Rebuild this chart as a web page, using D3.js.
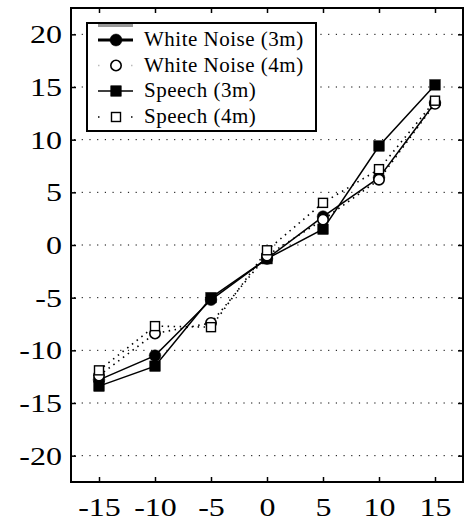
<!DOCTYPE html>
<html>
<head>
<meta charset="utf-8">
<script src="https://cdn.jsdelivr.net/npm/d3@7"></script>
<style>
  html, body { margin: 0; padding: 0; background: #fff; }
  svg { display: block; }
</style>
</head>
<body>
<svg id="chart" width="464" height="526"></svg>
<script>
// ---- data ----
const xValues = [-15, -10, -5, 0, 5, 10, 15];
const whiteNoise3m = [-12.8, -10.5, -5.2, -1.3, 2.7, 6.4, 13.5];
const whiteNoise4m = [-12.4, -8.4, -7.4, -1.0, 2.4, 6.2, 13.4];
const speech3m = [-13.4, -11.5, -5.0, -1.3, 1.5, 9.4, 15.2];
const speech4m = [-11.9, -7.7, -7.8, -0.5, 4.0, 7.2, 13.7];
const xTicks = [-15, -10, -5, 0, 5, 10, 15];
const yTicks = [-20, -15, -10, -5, 0, 5, 10, 15, 20];
const seriesNames = ["White Noise (3m)", "White Noise (4m)", "Speech (3m)", "Speech (4m)"];

const FONT = "Liberation Serif";
const SX = 1.28; // horizontal stretch of tick labels, as in the reference

const series = [
  { name: seriesNames[0], values: whiteNoise3m, marker: "circle", filled: true, dash: null },
  { name: seriesNames[1], values: whiteNoise4m, marker: "circle", filled: false, dash: "1.5,4.5" },
  { name: seriesNames[2], values: speech3m, marker: "square", filled: true, dash: null },
  { name: seriesNames[3], values: speech4m, marker: "square", filled: false, dash: "1.5,4.5" }
];

const svg = d3.select("#chart");
const L = 71, R = 463, T = 8, B = 482;
const x = d3.scaleLinear().domain([-17.5, 17.5]).range([L, R]);
const y = d3.scaleLinear().domain([-22.5, 22.5]).range([B, T]);
const fmt = d => String(d); // plain hyphen-minus like the reference

// grid (horizontal dotted)
svg.append("g").selectAll("line").data(yTicks).join("line")
  .attr("x1", L + 3).attr("x2", R - 1)
  .attr("y1", d => y(d)).attr("y2", d => y(d))
  .attr("stroke", "#000").attr("stroke-width", 1)
  .attr("stroke-dasharray", "1.2,6.5");

// axes with inward ticks
const tickLen = 5;
const gB = svg.append("g").attr("transform", `translate(0,${B})`)
  .call(d3.axisBottom(x).tickValues(xTicks).tickFormat(fmt).tickSizeInner(-tickLen).tickSizeOuter(0).tickPadding(16));
const gT = svg.append("g").attr("transform", `translate(0,${T})`)
  .call(d3.axisTop(x).tickValues(xTicks).tickSizeInner(-tickLen).tickSizeOuter(0).tickFormat(""));
const gL = svg.append("g").attr("transform", `translate(${L},0)`)
  .call(d3.axisLeft(y).tickValues(yTicks).tickFormat(fmt).tickSizeInner(-tickLen).tickSizeOuter(0).tickPadding(9));
const gR = svg.append("g").attr("transform", `translate(${R},0)`)
  .call(d3.axisRight(y).tickValues(yTicks).tickSizeInner(-tickLen).tickSizeOuter(0).tickFormat(""));

[gB, gT, gL, gR].forEach(g => {
  g.select(".domain").remove();
  g.selectAll(".tick line").attr("stroke", "#000").attr("stroke-width", 1.5);
  g.selectAll("text").attr("fill", "#000")
    .style("font-family", FONT).style("font-size", "25px");
});
gB.selectAll("text").attr("dy", "0.71em").attr("transform", `scale(${SX},1)`);
gL.selectAll("text").attr("dy", "0.34em").attr("x", -9 / SX).attr("transform", `scale(${SX},1)`);

// frame
svg.append("rect").attr("x", L).attr("y", T).attr("width", R - L).attr("height", B - T)
  .attr("fill", "none").attr("stroke", "#000").attr("stroke-width", 2);

// lines
const line = d3.line().x((d, i) => x(xValues[i])).y(d => y(d));
series.forEach(s => {
  svg.append("path").datum(s.values)
    .attr("d", line)
    .attr("fill", "none")
    .attr("stroke", "#000")
    .attr("stroke-width", s.dash ? 1.6 : 1.5)
    .attr("stroke-dasharray", s.dash);
});

function drawMarker(g, type, filled, cx, cy, big) {
  if (type === "circle") {
    g.append("circle").attr("cx", cx).attr("cy", cy).attr("r", filled ? (big ? 6 : 5.8) : 5.2)
      .attr("fill", filled ? "#000" : "#fff").attr("stroke", "#000").attr("stroke-width", filled ? 0.5 : 1.6);
  } else {
    const s = filled ? 10.5 : 9;
    g.append("rect").attr("x", cx - s / 2).attr("y", cy - s / 2).attr("width", s).attr("height", s)
      .attr("fill", filled ? "#000" : "#fff").attr("stroke", "#000").attr("stroke-width", filled ? 0.5 : 1.4);
  }
}

// markers: filled first, then open
const order = [0, 2, 1, 3];
order.forEach(k => {
  const s = series[k];
  const g = svg.append("g");
  s.values.forEach((v, i) => drawMarker(g, s.marker, s.filled, x(xValues[i]), y(v), false));
});

// legend
const lg = svg.append("g");
lg.append("rect").attr("x", 87).attr("y", 23).attr("width", 229).attr("height", 108)
  .attr("fill", "#fff").attr("stroke", "#000").attr("stroke-width", 2);
lg.append("line").attr("x1", 98).attr("x2", 133).attr("y1", 25.5).attr("y2", 25.5)
  .attr("stroke", "#999").attr("stroke-width", 3);
const rowY = [40, 65.5, 91, 117];
series.forEach((s, i) => {
  const yy = rowY[i];
  if (s.dash) {
    lg.append("line").attr("x1", 98).attr("x2", 134).attr("y1", yy).attr("y2", yy)
      .attr("stroke", s.marker === "circle" ? "#bbb" : "#000").attr("stroke-width", 1.6)
      .attr("stroke-dasharray", "1.5,15");
  } else {
    lg.append("line").attr("x1", 98).attr("x2", 133).attr("y1", yy).attr("y2", yy)
      .attr("stroke", "#000").attr("stroke-width", s.marker === "circle" ? 3 : 1.5);
  }
  drawMarker(lg, s.marker, s.filled, 116, yy, s.marker === "circle");
  lg.append("text").attr("x", 144).attr("y", yy).attr("dy", "0.3em")
    .style("font-family", FONT).style("font-size", "21px").style("letter-spacing", "0.5px")
    .attr("fill", "#000").text(s.name);
});
</script>
</body>
</html>
